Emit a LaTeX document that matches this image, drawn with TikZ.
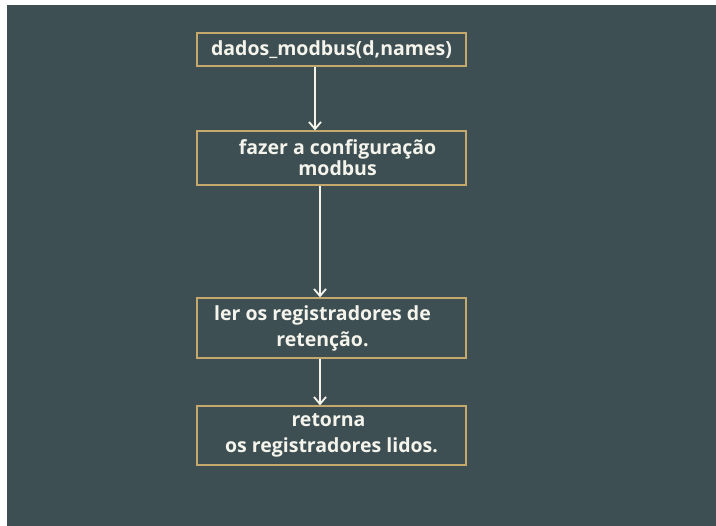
\documentclass[tikz,border=0pt]{standalone}
\usepackage{fontspec}
\setmainfont{Open Sans}
\usepackage{tikz}
\usetikzlibrary{arrows.meta,positioning}
\definecolor{slate}{RGB}{61,79,82}
\definecolor{gold}{RGB}{196,168,108}
\definecolor{chalk}{RGB}{244,244,236}

\begin{document}
\begin{tikzpicture}[x=1pt,y=-1pt,
  stepbox/.style={draw=gold,line width=1.3pt,minimum width=269pt,align=center,text=chalk,font=\fontsize{19.5}{26}\selectfont\bfseries,inner sep=0pt},
  flow/.style={draw=chalk,line width=1.8pt,-{Straight Barb[length=7pt,width=12pt,line width=1.8pt]}}]
  \useasboundingbox (0,0) rectangle (716,526);
  \fill[white] (0,0) rectangle (716,526);
  \fill[slate] (7,5) rectangle (716,526);
  % boxes
  \node[stepbox,minimum height=33pt] (dados) at (331.5,49.5) {dados\_modbus(d,names)};
  \node[stepbox,minimum height=54pt,font=\fontsize{19.5}{21}\selectfont\bfseries] (config) at (331.5,158) {\hspace*{12pt}fazer a configuração\\\hspace*{12pt}modbus};
  \node[stepbox,minimum height=60pt] (ler) at (331.5,328) {ler os registradores de\hspace*{18pt}\\retenção.\hspace*{18pt}};
  \node[stepbox,minimum height=59pt] (retorna) at (331.5,435.5) {retorna\hspace*{6pt}\\os registradores lidos.};
  % arrows
  \draw[flow] ([xshift=-16.5pt]dados.south) -- ([xshift=-16.5pt]config.north);
  \draw[flow] ([xshift=-11.5pt]config.south) -- ([xshift=-11.5pt]ler.north);
  \draw[flow] ([xshift=-11.5pt]ler.south) -- ([xshift=-11.5pt]retorna.north);
\end{tikzpicture}
\end{document}
